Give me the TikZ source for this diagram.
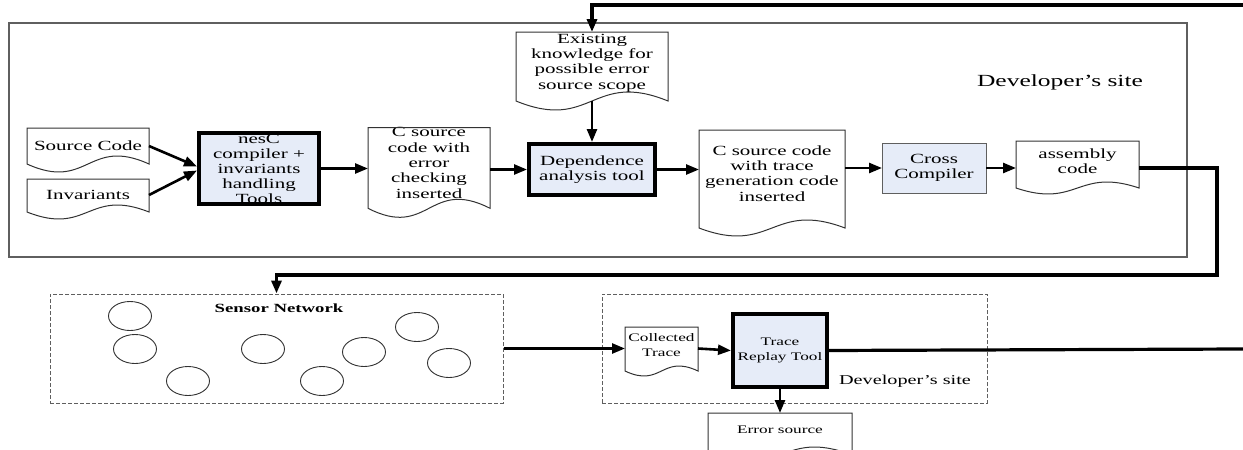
\documentclass[tikz,border=0pt]{standalone}
\usepackage{fontspec}
\setmainfont{Liberation Serif}[FakeStretch=1.5]
\usetikzlibrary{arrows.meta,calc,shapes.geometric}
\definecolor{toolblue}{RGB}{230,236,248}
\definecolor{framegray}{RGB}{95,95,95}
\definecolor{docgray}{RGB}{50,50,50}
% #1 node, #2 extra length of sides below node.south, #3 wave amplitude
\newcommand\docout[3]{%
  \draw[docline] ($(#1.south west)+(0,#2)$) -- (#1.north west) -- (#1.north east) -- ($(#1.south east)+(0,#2)$)
    .. controls ($(#1.south)+(0,{#2-3.46*#3})$) and ($(#1.south)+(0,{#2+3.46*#3})$) .. ($(#1.south west)+(0,#2)$) -- cycle;}
\begin{document}
\begin{tikzpicture}[x=1pt,y=-1pt,
  txt/.style={font=\fontsize{14}{15.3}\selectfont, align=center, inner sep=0pt, outer sep=0pt},
  smalltxt/.style={font=\fontsize{11.5}{15}\selectfont, align=center, inner sep=0pt, outer sep=0pt},
  docline/.style={draw=docgray, line width=1pt},
  thicktool/.style={draw=black, line width=4pt, fill=toolblue, inner sep=0pt},
  thintool/.style={draw=framegray, line width=1pt, fill=toolblue, inner sep=0pt},
  frame/.style={draw=framegray, line width=1.2pt, inner sep=0pt},
  dashframe/.style={draw=framegray, line width=1pt, dash pattern=on 4pt off 2pt, inner sep=0pt},
  mote/.style={draw=docgray, line width=0.9pt, ellipse, minimum width=43pt, minimum height=29pt, inner sep=0pt},
  arr/.style={line width=2.6pt, -{Triangle[length=13pt,width=10pt]}},
  arrthick/.style={line width=3.2pt, -{Triangle[length=13pt,width=10pt]}},
  plainthick/.style={line width=3.2pt}
]
\useasboundingbox (0,0) rectangle (1243,450);
\clip (0,0) rectangle (1243,450);

% frames
\node[frame, minimum width=1178pt, minimum height=234pt] (dev1) at (598,140) {};
\node[txt, font=\fontsize{17}{19}\selectfont] (dev1lab) at (1060,82) {Developer’s site};
\node[dashframe, minimum width=453pt, minimum height=109pt] (sn) at (276.5,348.5) {};
\node[smalltxt, font=\fontsize{12.5}{14}\selectfont\bfseries] (snlab) at (279,308) {Sensor Network};
\node[dashframe, minimum width=385pt, minimum height=109pt] (dev2) at (794.5,348.5) {};
\node[txt, font=\fontsize{13.5}{15}\selectfont] (dev2lab) at (905,381) {Developer’s site};

% documents
\node[txt, minimum width=122pt, minimum height=36pt] (src) at (88,146) {Source Code};
\docout{src}{0}{8}
\node[txt, minimum width=122pt, minimum height=32pt] (inv) at (88,195) {Invariants};
\docout{inv}{1}{7}
\node[txt, minimum width=122pt, minimum height=70pt] (cs1) at (429,163) {C source\\code with\\error\\checking\\inserted};
\docout{cs1}{10}{9}
\node[txt, minimum width=152pt, minimum height=62pt] (exk) at (592,63) {Existing\\knowledge for\\possible error\\source scope};
\docout{exk}{7}{9}
\node[txt, minimum width=146pt, minimum height=87pt] (cs2) at (772,173.5) {C source code\\with trace\\generation code\\inserted};
\docout{cs2}{11}{8}
\node[txt, minimum width=123pt, minimum height=40pt] (asm) at (1077.5,161) {assembly\\code};
\docout{asm}{7}{6}
\node[smalltxt, minimum width=73pt, minimum height=37pt] (coll) at (661.5,345.5) {Collected\\Trace};
\docout{coll}{7}{5}
\node[smalltxt, minimum width=144pt, minimum height=34pt] (err) at (780,430) {Error source};
\docout{err}{8}{8}

% tools
\node[thicktool, draw=none, minimum width=120pt, minimum height=71pt] (nesc) at (259,168.5) {};
\node[txt, font=\fontsize{14}{15}\selectfont] (nesctxt) at (nesc.center) {nesC\\compiler +\\invariants\\handling\\Tools};
\draw[line width=4pt] ($(nesc.north west)+(2,2)$) rectangle ($(nesc.south east)+(-2,-2)$);
\node[thicktool, txt, draw=black, line width=4pt, fill=toolblue, minimum width=126pt, minimum height=51pt, outer sep=2pt] (dep) at (592,169.5) {Dependence\\analysis tool};
\node[thintool, txt, draw=framegray, line width=1pt, fill=toolblue, minimum width=104pt, minimum height=50pt] (cc) at (934,168) {Cross\\Compiler};
\node[thicktool, smalltxt, draw=black, line width=4pt, fill=toolblue, minimum width=94pt, minimum height=73pt, outer sep=2pt] (tr) at (780,350.5) {Trace\\Replay Tool};

% motes
\node[mote] (m1) at (130,316) {};
\node[mote] (m2) at (135,349) {};
\node[mote] (m3) at (188,381) {};
\node[mote] (m4) at (263,349) {};
\node[mote] (m5) at (322,381) {};
\node[mote] (m6) at (364,352) {};
\node[mote] (m7) at (417,327) {};
\node[mote] (m8) at (449,363) {};

% connectors
\coordinate (topR) at (1243,5);
\coordinate (turn) at (1217,275);
\coordinate (trR) at (1243,349);
\draw[arr] (src.east) -- ([yshift=2pt]nesc.west);
\draw[arr] (inv.east) -- ([yshift=-2pt]nesc.west);
\draw[arr] (nesc.east) -- (nesc.east -| cs1.west);
\draw[arr] (cs1.east |- dep.west) -- (dep.west);
\draw[arr] ($(exk.south)+(0,7)$) -- (dep.north);
\draw[arr] (dep.east) -- (dep.east -| cs2.west);
\draw[arr] (cs2.east |- cc.west) -- (cc.west);
\draw[arr] (cc.east) -- (cc.east -| asm.west);
\draw[arrthick] (asm.east |- cc.east) -| (turn) -| (sn.north);
\draw[arrthick] (topR) -| (exk.north);
\draw[arr] (sn.east) -- (sn.east -| coll.west);
\draw[arr] (coll.east |- sn.east) -- (tr.west);
\draw[plainthick] (tr.east) -- (trR);
\draw[arr] (tr.south) -- (err.north);
\end{tikzpicture}
\end{document}
